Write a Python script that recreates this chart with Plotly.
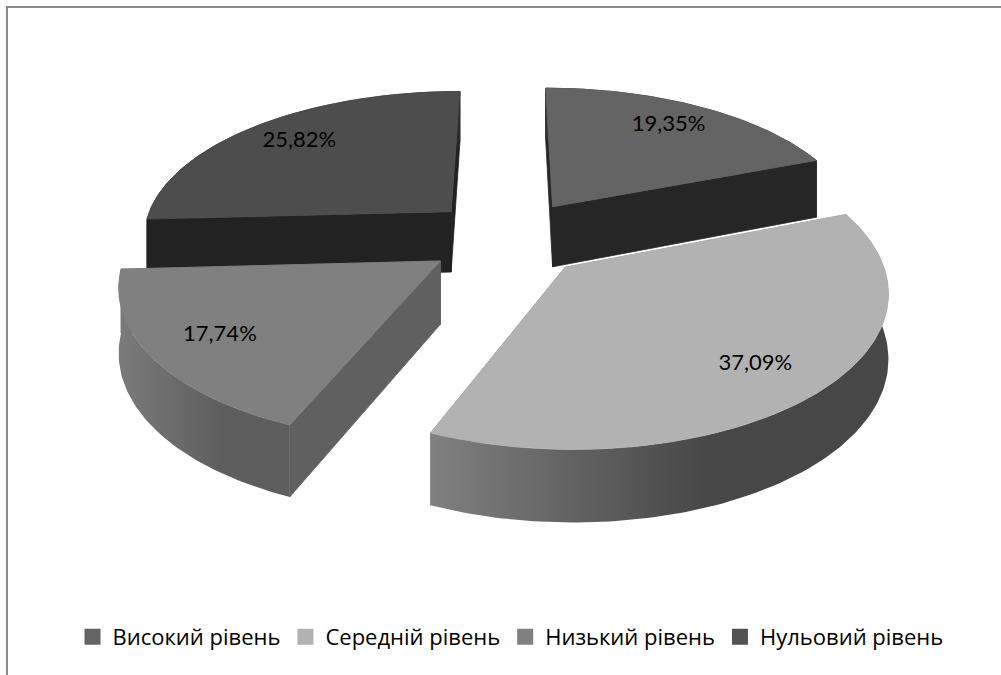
import numpy as np
import plotly.graph_objects as go

# ---------------- data ----------------
categories = ["Високий рівень", "Середній рівень", "Низький рівень", "Нульовий рівень"]
values = [19.35, 37.09, 17.74, 25.82]

# ---------------- style ----------------
top_colors = ["#646464", "#b2b2b2", "#808080", "#4d4d4d"]
cut_colors = ["#262626", "#8a8a8a", "#606060", "#222222"]
wall_colors = [("#333333", "#333333"), ("#808080", "#474747"),
               ("#7b7b7b", "#5e5e5e"), ("#2a2a2a", "#2a2a2a")]
legend_colors = ["#646464", "#b2b2b2", "#808080", "#535353"]

W, H = 1001, 675
CX, CY = 508.0, 238.0     # centre of the (un-exploded) pie top
RX, RY = 310.0, 151.0     # ellipse radii of the top face
K = 0.15                  # perspective factor
EXPLODE = 0.26            # explosion distance (fraction of radius)
DEPTH = 62.0              # wall height in px
LABEL_R = 0.78
LABEL_FONT = "Lato, Carlito, 'Open Sans', sans-serif"
LEGEND_FONT = "'Open Sans', 'Noto Sans', sans-serif"


def project(X, Z, drop=0.0):
    s = 1.0 + K * Z
    return CX + RX * X * s, CY + RY * Z * s + drop * DEPTH * s


total = float(sum(values))
bounds = np.concatenate([[0.0], np.cumsum(values)]) / total * 2 * np.pi

slices = []
for i, v in enumerate(values):
    a, b = bounds[i], bounds[i + 1]
    m = 0.5 * (a + b)
    ox, oz = EXPLODE * np.sin(m), -EXPLODE * np.cos(m)
    slices.append(dict(i=i, a=a, b=b, m=m, ox=ox, oz=oz))


def pts(sl, thetas, r=1.0, drop=0.0):
    X = sl["ox"] + r * np.sin(thetas)
    Z = sl["oz"] - r * np.cos(thetas)
    return project(X, Z, drop)


def poly(xs, ys, color, grad=None):
    kw = dict(x=list(xs) + [xs[0]], y=list(ys) + [ys[0]], mode="lines", fill="toself",
              hoverinfo="skip", showlegend=False)
    if grad is None:
        kw["fillcolor"] = color
        kw["line"] = dict(width=0.8, color=color)
    else:
        kw["fillgradient"] = dict(type="horizontal",
                                  colorscale=[[0, grad[0]], [0.6, grad[1]], [1, grad[1]]])
        kw["line"] = dict(width=0)
    return go.Scatter(**kw)


def cut_face(sl, theta):
    tx, ty = pts(sl, np.array([0.0]), r=0.0)
    ex, ey = pts(sl, np.array([theta]))
    tbx, tby = pts(sl, np.array([0.0]), r=0.0, drop=1.0)
    ebx, eby = pts(sl, np.array([theta]), drop=1.0)
    return [tx[0], ex[0], ebx[0], tbx[0]], [ty[0], ey[0], eby[0], tby[0]]


fig = go.Figure()

for sl in sorted(slices, key=lambda s: s["oz"]):
    i, a, b = sl["i"], sl["a"], sl["b"]
    n = max(int(np.degrees(b - a)) + 2, 8)
    th = np.linspace(a, b, n)
    faces = [(a, -np.sin(a)), (b, np.sin(b))]
    # hidden radial cut faces first
    for ang, vis in faces:
        if vis <= 0.02:
            xs, ys = cut_face(sl, ang)
            fig.add_trace(poly(xs, ys, cut_colors[i]))
    # outer wall
    x1, y1 = pts(sl, th)
    x2, y2 = pts(sl, th[::-1], drop=1.0)
    wx = np.concatenate([x1, x2])
    wy = np.concatenate([y1, y2])
    c0, c1 = wall_colors[i]
    fig.add_trace(poly(wx, wy, c0, grad=None if c0 == c1 else (c0, c1)))
    # visible radial cut faces
    for ang, vis in faces:
        if vis > 0.02:
            xs, ys = cut_face(sl, ang)
            fig.add_trace(poly(xs, ys, cut_colors[i]))
    # top face
    tx, ty = pts(sl, np.array([0.0]), r=0.0)
    ax_, ay_ = pts(sl, th)
    fig.add_trace(poly(np.concatenate([tx, ax_]), np.concatenate([ty, ay_]), top_colors[i]))

# data labels
lx, ly, lt = [], [], []
for sl in slices:
    x, y = pts(sl, np.array([sl["m"]]), r=LABEL_R)
    lx.append(x[0]); ly.append(y[0])
    lt.append(f"{values[sl['i']]:.2f}".replace(".", ",") + "%")
fig.add_trace(go.Scatter(x=lx, y=ly, text=lt, mode="text", textposition="middle center",
                         textfont=dict(family=LABEL_FONT, size=22, color="#000000"),
                         hoverinfo="skip", showlegend=False))

# legend entries
for name, col in zip(categories, legend_colors):
    fig.add_trace(go.Scatter(x=[None], y=[None], mode="markers", name=name,
                             marker=dict(symbol="square", size=16, color=col)))

fig.update_layout(
    width=W, height=H,
    margin=dict(l=0, r=0, t=0, b=0),
    paper_bgcolor="white", plot_bgcolor="white",
    xaxis=dict(range=[0, W], visible=False, fixedrange=True),
    yaxis=dict(range=[H, 0], visible=False, fixedrange=True),
    showlegend=True,
    legend=dict(orientation="h", x=0.51, xanchor="center", y=1 - 637 / H, yanchor="middle",
                font=dict(family=LEGEND_FONT, size=22, color="#000000"),
                itemwidth=30, bgcolor="rgba(0,0,0,0)"),
    shapes=[dict(type="rect", xref="x", yref="y", x0=7, y0=7, x1=W + 10, y1=H + 10,
                 line=dict(color="#8a8a8a", width=2), layer="above")],
)

fig.write_html("out.html", config={"displayModeBar": False},
               post_script="document.body.style.margin='0px';")
